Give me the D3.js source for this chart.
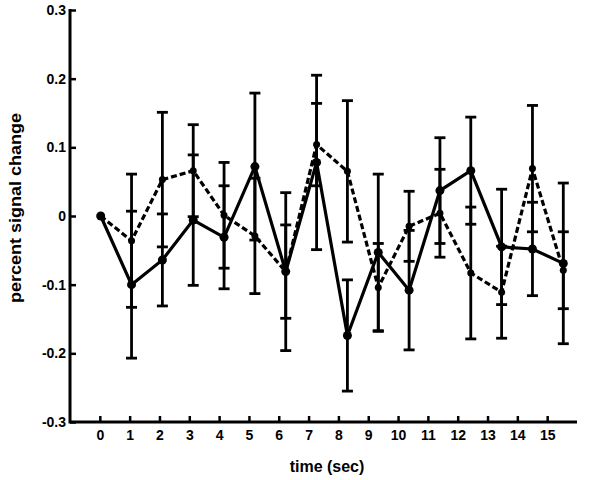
<!DOCTYPE html>
<html>
<head>
<meta charset="utf-8">
<script src="https://cdn.jsdelivr.net/npm/d3@7"></script>
<style>
  body { margin: 0; background: #fff; }
  svg { display: block; }
</style>
</head>
<body>
<div id="chart"></div>
<script>
const times = [0, 1, 2, 3, 4, 5, 6, 7, 8, 9, 10, 11, 12, 13, 14, 15];
const solidMean = [0, -0.1, -0.064, -0.006, -0.031, 0.072, -0.081, 0.078, -0.174, -0.053, -0.108, 0.037, 0.066, -0.045, -0.048, -0.069];
const solidErr = [0, 0.107, 0.067, 0.095, 0.075, 0.107, 0.115, 0.127, 0.081, 0.114, 0.087, 0.077, 0.078, 0.084, 0.068, 0.117];
const dashedMean = [0, -0.036, 0.053, 0.066, 0.001, -0.029, -0.081, 0.104, 0.065, -0.104, -0.015, 0.004, -0.083, -0.111, 0.069, -0.079];
const dashedErr = [0, 0.097, 0.098, 0.067, 0.077, 0.084, 0.068, 0.06, 0.103, 0.064, 0.051, 0.064, 0.096, 0.067, 0.092, 0.056];
const yTicks = [-0.3, -0.2, -0.1, 0, 0.1, 0.2, 0.3];

const width = 600, height = 480;
const font = "'Liberation Sans', Arial, sans-serif";

const svg = d3.select('#chart')
  .append('svg')
  .attr('width', width)
  .attr('height', height);

// axis ticks and the plotted points do not line up exactly in the original
const xAxisScale = d3.scaleLinear().domain([-1, 16]).range([70, 577]);
const x = d3.scaleLinear().domain([0, 15]).range([100.7, 563.3]);
const y = d3.scaleLinear().domain([-0.3, 0.3]).range([422, 10]);

const styleAxis = (g) => {
  g.select('.domain').remove();
  g.selectAll('.tick line').attr('stroke', '#000').attr('stroke-width', 2.5);
  g.selectAll('.tick text')
    .attr('fill', '#000')
    .style('font-family', font)
    .style('font-size', '14px')
    .style('font-weight', 'bold');
};

svg.append('g')
  .attr('transform', 'translate(0,422)')
  .call(d3.axisBottom(xAxisScale).tickValues(times).tickSizeInner(-6).tickSizeOuter(0).tickPadding(8))
  .call(styleAxis);

svg.append('g')
  .attr('transform', 'translate(70,0)')
  .call(d3.axisLeft(y).tickValues(yTicks).tickSizeInner(-6).tickSizeOuter(0).tickPadding(4)
    .tickFormat(d => Math.abs(d) < 1e-9 ? '0' : d.toFixed(1)))
  .call(styleAxis);

svg.append('path')
  .attr('d', d3.line()([[70, 9], [70, 422], [577, 422]]))
  .attr('fill', 'none')
  .attr('stroke', '#000')
  .attr('stroke-width', 3);

svg.append('text')
  .attr('x', 327)
  .attr('y', 472)
  .attr('text-anchor', 'middle')
  .style('font-family', font)
  .style('font-size', '16px')
  .style('font-weight', 'bold')
  .text('time (sec)');

svg.append('text')
  .attr('transform', 'translate(15,208) rotate(-90)')
  .attr('text-anchor', 'middle')
  .attr('dominant-baseline', 'central')
  .attr('textLength', 190)
  .attr('lengthAdjust', 'spacingAndGlyphs')
  .style('font-family', font)
  .style('font-size', '16px')
  .style('font-weight', 'bold')
  .text('percent signal change');

const series = [
  { mean: dashedMean, err: dashedErr, dash: '6,3', r: 3.5 },
  { mean: solidMean, err: solidErr, dash: null, r: 4.5 }
];

series.forEach(s => {
  const pts = times.map((t, i) => ({ t: t, v: s.mean[i], e: s.err[i] })).filter(d => d.e > 0);
  const bars = svg.append('g')
    .attr('stroke', '#000')
    .attr('stroke-width', 2.8)
    .selectAll('g')
    .data(pts)
    .join('g');
  bars.append('line')
    .attr('x1', d => x(d.t)).attr('x2', d => x(d.t))
    .attr('y1', d => y(d.v + d.e)).attr('y2', d => y(d.v - d.e));
  bars.append('line')
    .attr('x1', d => x(d.t) - 5.5).attr('x2', d => x(d.t) + 5.5)
    .attr('y1', d => y(d.v + d.e)).attr('y2', d => y(d.v + d.e));
  bars.append('line')
    .attr('x1', d => x(d.t) - 5.5).attr('x2', d => x(d.t) + 5.5)
    .attr('y1', d => y(d.v - d.e)).attr('y2', d => y(d.v - d.e));
});

series.forEach(s => {
  svg.append('path')
    .datum(times)
    .attr('fill', 'none')
    .attr('stroke', '#000')
    .attr('stroke-width', 3.2)
    .attr('stroke-linejoin', 'miter')
    .attr('stroke-dasharray', s.dash)
    .attr('d', d3.line().x(t => x(t)).y((t, i) => y(s.mean[i])));

  svg.append('g')
    .selectAll('circle')
    .data(times)
    .join('circle')
    .attr('cx', t => x(t))
    .attr('cy', (t, i) => y(s.mean[i]))
    .attr('r', s.r)
    .attr('fill', '#000');
});
</script>
</body>
</html>
